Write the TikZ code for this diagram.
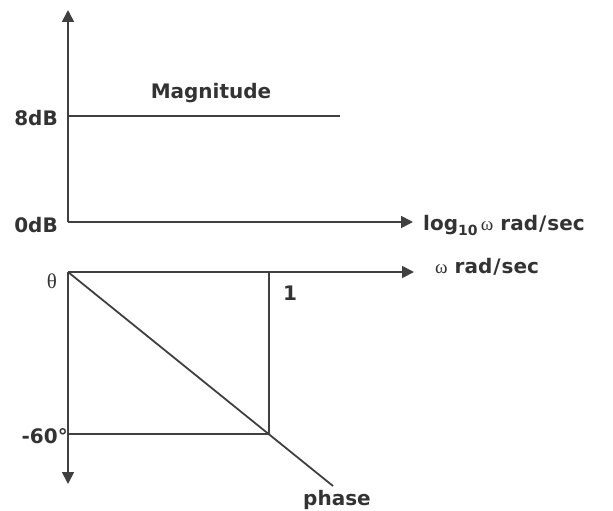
\documentclass[tikz,border=0pt]{standalone}
\usepackage{fontspec}
\setmainfont{DejaVu Sans}
\newfontfamily\greekfont{Liberation Serif}
\usetikzlibrary{arrows.meta}
\definecolor{axisgray}{HTML}{404040}
\definecolor{textgray}{HTML}{333333}
\tikzset{
  axis/.style={draw=axisgray,line width=1.8pt,-{Triangle[length=12pt,width=12pt]}},
  plotline/.style={draw=axisgray,line width=1.8pt},
  lbl/.style={text=textgray,font=\fontsize{20}{24}\selectfont\bfseries,inner sep=0pt},
  glbl/.style={text=textgray,font=\fontsize{21}{24}\selectfont\greekfont,inner sep=0pt}
}
\begin{document}
\begin{tikzpicture}[x=1pt,y=-1pt]
  \useasboundingbox (0,0) rectangle (613,511);
  % magnitude plot
  \coordinate (O1) at (68,222);
  \coordinate (ytop) at (68,10);
  \coordinate (xend1) at (413,222);
  \coordinate (m1) at (68,116);
  \coordinate (m2) at (340,116);
  \draw[axis] (O1) -- (ytop);
  \draw[axis] (O1) -- (xend1);
  \draw[plotline] (m1) -- (m2);
  \node[lbl,anchor=base] (mag) at (211,99) {Magnitude};
  \node[lbl,anchor=base east] (eight) at (58,125) {8dB};
  \node[lbl,anchor=base east] (zero) at (58,232) {0dB};
  \node[lbl,anchor=base west] (xlog) at (423,230) {log\raisebox{-5pt}{\fontsize{14}{14}\selectfont 10}\,{\greekfont\mdseries\fontsize{19}{20}\selectfont ω} rad{\kern1pt}/{\kern1pt}sec};
  % phase plot
  \coordinate (O2) at (68,272);
  \coordinate (ybot) at (68,484);
  \coordinate (xend2) at (414,272);
  \coordinate (c1) at (269,272);
  \coordinate (c2) at (269,434);
  \coordinate (p1) at (68,434);
  \coordinate (d2) at (333,486);
  \draw[axis] (O2) -- (ybot);
  \draw[axis] (O2) -- (xend2);
  \draw[plotline] (c1) -- (c2) -- (p1);
  \draw[plotline] (O2) -- (d2);
  \node[glbl,anchor=base] (theta) at (52,288) {θ};
  \node[lbl,anchor=base west] (xw) at (435,273) {{\greekfont\mdseries\fontsize{19}{20}\selectfont ω} rad{\kern1pt}/{\kern1pt}sec};
  \node[lbl,anchor=base west] (one) at (283,300) {1};
  \node[lbl,anchor=base east] (sixty) at (68,443) {-60°};
  \node[lbl,anchor=base] (phase) at (337,505) {phase};
\end{tikzpicture}
\end{document}
